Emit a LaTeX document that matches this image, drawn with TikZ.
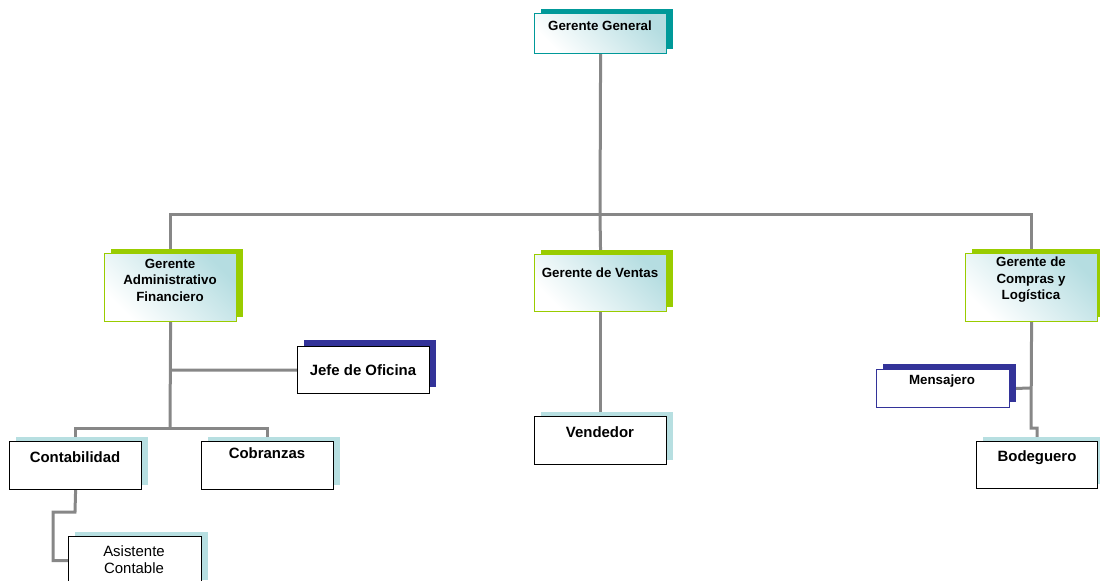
\documentclass[tikz,border=0pt]{standalone}
\usepackage{fontspec}
\setmainfont{Liberation Sans}
\usetikzlibrary{shadows,backgrounds}
\definecolor{linegray}{HTML}{878787}
\definecolor{tealc}{HTML}{009999}
\definecolor{greenc}{HTML}{99CC00}
\definecolor{navyc}{HTML}{333399}
\definecolor{lightc}{HTML}{B7DFE1}
\definecolor{gradc}{HTML}{B5DDE1}
\tikzset{
  conn/.style={draw=linegray, line width=2.25pt},
  boxbase/.style={anchor=north west, inner sep=0pt, line width=0.9pt},
  gradfill/.style={left color=white, right color=gradc, shading angle=135},
  ggbox/.style={boxbase, draw=tealc, gradfill, general shadow={fill=tealc, shadow xshift=5pt, shadow yshift=3.2pt}},
  grbox/.style={boxbase, draw=greenc, gradfill, general shadow={fill=greenc, shadow xshift=4.5pt, shadow yshift=3.5pt}},
  nvbox/.style={boxbase, draw=navyc, fill=white, general shadow={fill=navyc, shadow xshift=4.5pt, shadow yshift=4.5pt}},
  nvbox2/.style={boxbase, draw=black, fill=white, general shadow={fill=navyc, shadow xshift=4.5pt, shadow yshift=5pt}},
  ltbox/.style={boxbase, draw=black, fill=white, general shadow={fill=lightc, shadow xshift=4.5pt, shadow yshift=3.2pt}},
  lbl/.style={font=\bfseries\fontsize{10}{12.4}\selectfont, align=center, inner sep=0pt},
  lblb/.style={font=\bfseries\fontsize{11.2}{13}\selectfont, align=center, inner sep=0pt},
  lbln/.style={font=\fontsize{11.2}{12.8}\selectfont, align=center, inner sep=0pt},
}
\begin{document}
\begin{tikzpicture}[x=0.75pt, y=-0.75pt]
\useasboundingbox (0,0) rectangle (1100,581);
% boxes
\node[ggbox, minimum width=132*0.75pt, minimum height=40*0.75pt] (gg) at (534,13) {};
\node[grbox, minimum width=132*0.75pt, minimum height=68*0.75pt] (gaf) at (104,253) {};
\node[grbox, minimum width=132*0.75pt, minimum height=57*0.75pt] (gv) at (534,254) {};
\node[grbox, minimum width=132*0.75pt, minimum height=68*0.75pt] (gcl) at (965,253) {};
\node[nvbox2, minimum width=132*0.75pt, minimum height=47*0.75pt] (jefe) at (297,346) {};
\node[ltbox, minimum width=132*0.75pt, minimum height=48*0.75pt] (contab) at (9,441) {};
\node[ltbox, minimum width=132*0.75pt, minimum height=48*0.75pt] (cobr) at (201,441) {};
\node[ltbox, minimum width=132*0.75pt, minimum height=48*0.75pt] (vend) at (534,416) {};
\node[nvbox, minimum width=133*0.75pt, minimum height=38*0.75pt] (mens) at (876,369) {};
\node[ltbox, minimum width=121*0.75pt, minimum height=47*0.75pt] (bod) at (976,441) {};
\node[ltbox, minimum width=133*0.75pt, minimum height=48*0.75pt] (asis) at (68,536) {};
% labels
\node[lbl] (tgg) at (600,26) {Gerente General};
\node[lbl] (tgaf) at (170,280) {Gerente\\Administrativo\\Financiero};
\node[lbl] (tgv) at (600,273) {Gerente de Ventas};
\node[lbl] (tgcl) at (1031,280) {Gerente de\\Compras y\\Logística};
\node[lblb] (tjefe) at (363,370) {Jefe de Oficina};
\node[lblb] (tcontab) at (75,457) {Contabilidad};
\node[lblb] (tcobr) at (267,453) {Cobranzas};
\node[lblb] (tvend) at (600,432) {Vendedor};
\node[lbl] (tmens) at (942,381) {Mensajero};
\node[lblb] (tbod) at (1037,458) {Bodeguero};
\node[lbln] (tasis) at (134,560) {Asistente\\Contable};
% connectors
\begin{scope}[on background layer]
\coordinate (bus) at (600,215);
\coordinate (gafj) at (170,428);
\coordinate (gafm) at (170,370);
\coordinate (cont1) at (75,512);
\coordinate (cont2) at (53,512);
\coordinate (gclj) at (1031,428);
\coordinate (gclm) at (1031,388);
\coordinate (bodj) at (1037,428);
\draw[conn] (gg.south) -- (bus);
\draw[conn] (gaf.north) |- (bus) -| (gcl.north);
\draw[conn] (bus) -- (gv.north);
\draw[conn] (gaf.south) -- (gafj);
\draw[conn] (gafm) -- (jefe.west);
\draw[conn] (contab.north) |- (gafj) -| (cobr.north);
\draw[conn] (gv.south) -- (vend.north);
\draw[conn] (contab.south) -- (cont1) -- (cont2) |- (asis.west);
\draw[conn] (gcl.south) -- (gclj) -- (bodj) -- (bod.north);
\draw[conn] (mens.east) -- (gclm);
\end{scope}
\end{tikzpicture}
\end{document}
